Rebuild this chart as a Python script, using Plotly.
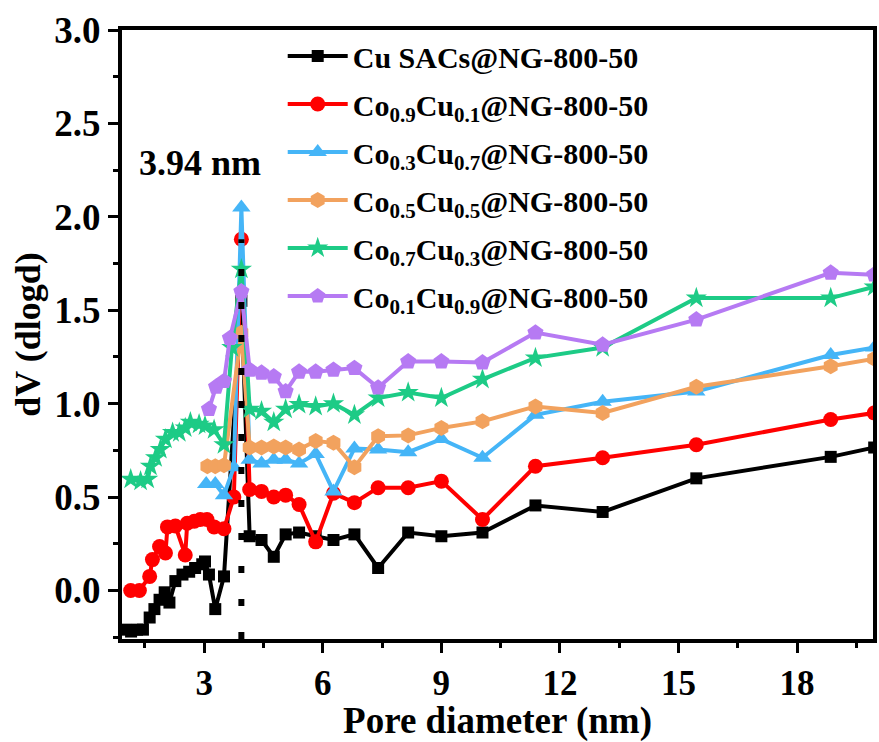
import plotly.graph_objects as go

# ---------------- data ----------------
names = [
    "Cu SACs@NG-800-50",
    "Co<sub>0.9</sub>Cu<sub>0.1</sub>@NG-800-50",
    "Co<sub>0.3</sub>Cu<sub>0.7</sub>@NG-800-50",
    "Co<sub>0.5</sub>Cu<sub>0.5</sub>@NG-800-50",
    "Co<sub>0.7</sub>Cu<sub>0.3</sub>@NG-800-50",
    "Co<sub>0.1</sub>Cu<sub>0.9</sub>@NG-800-50",
]

tail_x = [4.15, 4.45, 4.76, 5.06, 5.4, 5.82, 6.27, 6.8, 7.4, 8.16, 9.0, 10.04, 11.38, 13.08, 15.45, 18.85, 19.95]

cu_x = [1.0, 1.15, 1.3, 1.45, 1.62, 1.74, 1.87, 2.0, 2.12, 2.27, 2.45, 2.62, 2.77, 2.95, 3.02, 3.12, 3.28, 3.5, 3.94] + tail_x
cu_y = [-0.21, -0.22, -0.21, -0.21, -0.145, -0.10, -0.05, -0.01, -0.065, 0.05, 0.085, 0.10, 0.12, 0.14, 0.155, 0.085, -0.10, 0.075, 1.55,
        0.29, 0.27, 0.18, 0.30, 0.31, 0.29, 0.27, 0.30, 0.12, 0.31, 0.29, 0.31, 0.455, 0.42, 0.60, 0.715, 0.765]

co91_x = [1.14, 1.36, 1.62, 1.69, 1.87, 2.02, 2.07, 2.27, 2.52, 2.57, 2.75, 2.9, 3.07, 3.25, 3.5, 3.75, 3.94] + tail_x
co91_y = [0.0, 0.0, 0.075, 0.165, 0.235, 0.20, 0.34, 0.345, 0.19, 0.36, 0.37, 0.38, 0.38, 0.34, 0.33, 0.50, 1.88,
          0.54, 0.53, 0.50, 0.51, 0.46, 0.26, 0.52, 0.47, 0.55, 0.55, 0.585, 0.38, 0.665, 0.71, 0.78, 0.915, 0.95]

co37_x = [3.05, 3.28, 3.5, 3.75, 3.94] + tail_x
co37_y = [0.57, 0.57, 0.51, 0.66, 2.05,
          0.70, 0.68, 0.70, 0.70, 0.68, 0.73, 0.53, 0.76, 0.755, 0.74, 0.81, 0.71, 0.94, 1.01, 1.065, 1.26, 1.30]

co55_x = [3.08, 3.28, 3.5, 3.94] + tail_x
co55_y = [0.665, 0.665, 0.67, 1.38,
          0.765, 0.765, 0.77, 0.765, 0.755, 0.80, 0.79, 0.66, 0.825, 0.83, 0.87, 0.905, 0.985, 0.95, 1.09, 1.20, 1.24]

co73_x = [1.14, 1.39, 1.57, 1.64, 1.77, 1.89, 2.02, 2.2, 2.37, 2.52, 2.65, 2.87, 3.02, 3.25, 3.5, 3.7, 3.94] + tail_x
co73_y = [0.595, 0.585, 0.595, 0.665, 0.71, 0.755, 0.81, 0.845, 0.845, 0.87, 0.90, 0.89, 0.88, 0.86, 0.78, 1.30, 1.72,
          0.97, 0.96, 0.90, 0.97, 0.995, 0.985, 1.0, 0.94, 1.03, 1.06, 1.03, 1.13, 1.245, 1.30, 1.565, 1.565, 1.625]

co19_x = [3.12, 3.3, 3.5, 3.65, 3.94] + tail_x
co19_y = [0.97, 1.09, 1.12, 1.35, 1.60,
          1.18, 1.165, 1.145, 1.065, 1.17, 1.17, 1.18, 1.19, 1.085, 1.225, 1.225, 1.22, 1.38, 1.315, 1.45, 1.70, 1.69]

peak_x = [3.94, 3.94]
peak_y = [-0.26, 1.88]
peak_label = "3.94 nm"

x_ticks = [3, 6, 9, 12, 15, 18]
y_ticks = [0.0, 0.5, 1.0, 1.5, 2.0, 2.5, 3.0]

# ---------------- styles ----------------
series = [
    (cu_x, cu_y, "#000000", "square", 12),
    (co91_x, co91_y, "#FF0000", "circle", 15),
    (co37_x, co37_y, "#45B5F7", "triangle-up", 16),
    (co55_x, co55_y, "#F2A25E", "hexagon", 16),
    (co73_x, co73_y, "#1DCB86", "star", 16),
    (co19_x, co19_y, "#B67AF3", "pentagon", 17),
]

fig = go.Figure()
for i, (xs, ys, col, sym, sz) in enumerate(series):
    fig.add_trace(go.Scatter(
        x=xs, y=ys, mode="lines+markers", name=f"<b>{names[i]}</b>",
        line=dict(color=col, width=4),
        marker=dict(color=col, symbol=sym, size=sz, line=dict(width=0)),
        legendgroup=f"g{i}",
    ))

fig.add_trace(go.Scatter(
    x=peak_x, y=peak_y, mode="lines", showlegend=False,
    line=dict(color="black", width=6, dash="7px,26px"),
))

fig.add_annotation(x=2.9, y=2.29, text=f"<b>{peak_label}</b>", showarrow=False,
                   font=dict(family="Liberation Serif", size=36, color="black"))

axis_font = dict(family="Liberation Serif", size=37, color="black")
fig.update_layout(
    width=879, height=742,
    margin=dict(l=122, r=2, t=30, b=102),
    paper_bgcolor="white", plot_bgcolor="white",
    font=dict(family="Liberation Serif", color="black"),
    showlegend=True,
    legend=dict(x=0.214, y=1.0, xanchor="left", yanchor="top",
                bgcolor="rgba(0,0,0,0)", borderwidth=0,
                font=dict(family="Liberation Serif", size=30, color="black"),
                tracegroupgap=6, itemwidth=60, traceorder="grouped"),
    xaxis=dict(range=[0.92, 19.92], tickvals=x_ticks, ticktext=[f"<b>{v}</b>" for v in x_ticks],
               showgrid=False, zeroline=False, showline=True, linecolor="black", linewidth=4,
               mirror=True, ticks="outside", ticklen=10, tickwidth=3, tickcolor="black",
               minor=dict(dtick=1.5, tick0=0, ticks="outside", ticklen=5, tickwidth=3, tickcolor="black"),
               tickfont=dict(family="Liberation Serif", size=35, color="black"),
               title=dict(text="<b>Pore diameter (nm)</b>", font=dict(family="Liberation Serif", size=37), standoff=11)),
    yaxis=dict(range=[-0.26, 3.0], tickvals=y_ticks, ticktext=[f"<b>{v:.1f}</b>" for v in y_ticks],
               showgrid=False, zeroline=False, showline=True, linecolor="black", linewidth=4,
               mirror=True, ticks="outside", ticklen=10, tickwidth=3, tickcolor="black",
               minor=dict(dtick=0.25, tick0=0, ticks="outside", ticklen=5, tickwidth=3, tickcolor="black"),
               tickfont=axis_font,
               title=dict(text="<b>dV (dlogd)</b>", font=dict(family="Liberation Serif", size=36), standoff=4)),
)

fig.write_html("out.html")
